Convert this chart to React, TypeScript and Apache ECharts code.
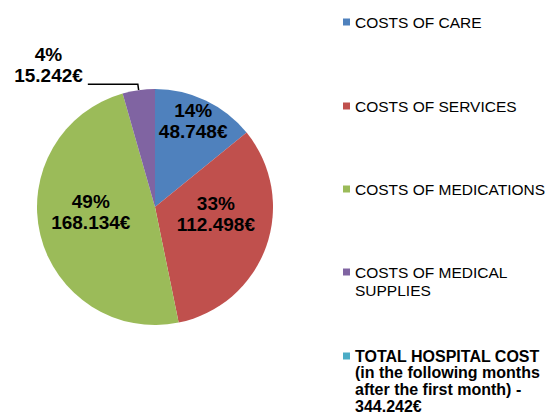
import React, { useEffect, useRef } from "react";
import * as echarts from "echarts";

const categories = [
  "COSTS OF CARE",
  "COSTS OF SERVICES",
  "COSTS OF MEDICATIONS",
  "COSTS OF MEDICAL SUPPLIES",
  "TOTAL HOSPITAL COST (in the following months after the first month) - 344.242€",
];
const values = [48748, 112498, 168134, 15242, 0];
const legendTexts = [
  "COSTS OF CARE",
  "COSTS OF SERVICES",
  "COSTS OF MEDICATIONS",
  "COSTS OF MEDICAL\nSUPPLIES",
  "TOTAL HOSPITAL COST\n(in the following months\nafter the first month) -\n344.242€",
];
const colors = ["#4F81BD", "#C0504D", "#9BBB59", "#8064A2", "#4BACC6"];

const FONT = "'Liberation Sans', Arial, sans-serif";

function fmtEuro(v: number): string {
  return Math.round(v).toString().replace(/\B(?=(\d{3})+(?!\d))/g, ".") + "€";
}

// per-slice label styling (padding nudges the label like the original)
const labelPaddings: number[][] = [
  [0, 0, 60, 23],
  [0, 0, 28, 5],
  [0, 8, 20, 0],
  [0, 0, 38, 0],
];

export default function App() {
  const ref = useRef<HTMLDivElement>(null);
  useEffect(() => {
    if (!ref.current) return;
    const chart = echarts.init(ref.current, undefined, { renderer: "svg" });

    const data = categories.map((name, i) => {
      const item: any = {
        name,
        value: values[i],
        itemStyle: { color: colors[i] },
      };
      if (i < 3) {
        item.label = { position: "inside", padding: labelPaddings[i] };
        item.labelLine = { show: false };
      } else if (i === 3) {
        item.label = {
          position: "outside",
          padding: labelPaddings[i],
          bleedMargin: 0,
          edgeDistance: 0,
          distanceToLabelLine: 5,
        };
        item.labelLine = {
          show: true,
          length: 6,
          length2: 50,
          smooth: false,
          lineStyle: { color: "#000", width: 1.5 },
        };
      } else {
        item.label = { show: false };
        item.labelLine = { show: false };
      }
      return item;
    });

    const legendIconCenters = [22, 106, 189, 272, 356];
    const legendLineHeights = [18, 18, 18, 18, 16.8];
    const legends = categories.map((name, i) => {
      const lines = legendTexts[i].split("\n");
      const n = lines.length;
      const lh = legendLineHeights[i];
      // blank lines above keep the first text line level with the marker
      const text = "\n".repeat(n - 1) + legendTexts[i];
      const totalH = (2 * n - 1) * lh;
      return {
        orient: "vertical",
        left: 343,
        top: legendIconCenters[i] - totalH / 2,
        padding: 0,
        itemWidth: 7,
        itemHeight: 7,
        icon: "rect",
        selectedMode: false,
        data: [name],
        formatter: () => text,
        textStyle: {
          fontFamily: FONT,
          fontSize: i === 4 ? 16 : 15.5,
          lineHeight: lh,
          color: "#000",
          fontWeight: i === 4 ? "bold" : "normal",
        },
      };
    });

    chart.setOption({
      animation: false,
      backgroundColor: "#ffffff",
      legend: legends,
      series: [
        {
          type: "pie",
          center: [155, 207],
          radius: 118,
          startAngle: 90,
          clockwise: true,
          percentPrecision: 0,
          avoidLabelOverlap: true,
          emphasis: { disabled: true },
          itemStyle: { borderWidth: 0 },
          label: {
            show: true,
            formatter: (p: any) => `{c|${p.percent}%}\n{c|${fmtEuro(p.value)}}`,
            rich: {
              c: {
                fontFamily: FONT,
                fontSize: 19,
                fontWeight: "bold",
                lineHeight: 21,
                color: "#000",
                align: "center",
              },
            },
          },
          data,
        },
      ],
    });
    return () => chart.dispose();
  }, []);
  return (
    <div
      ref={ref}
      style={{ position: "absolute", left: 0, top: 0, width: 545, height: 415 }}
    />
  );
}
